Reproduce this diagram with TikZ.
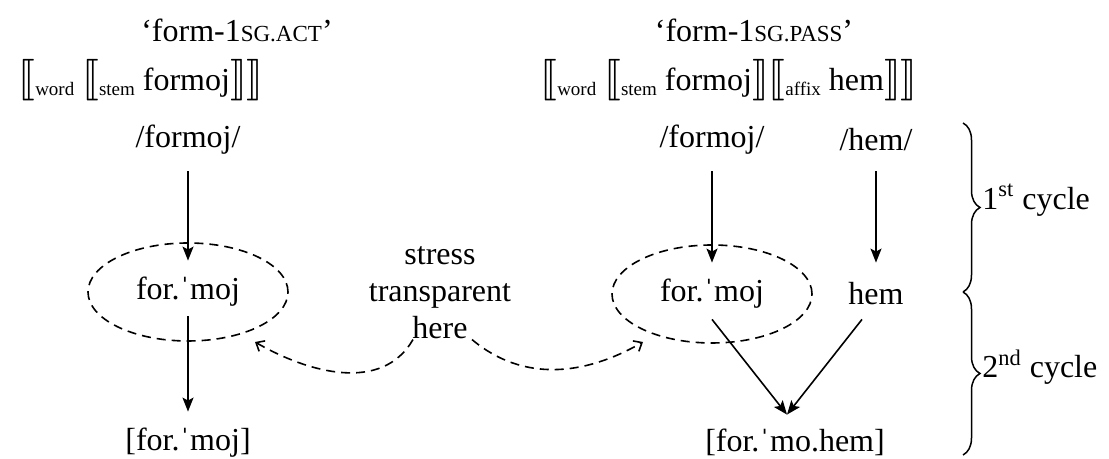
\documentclass[tikz,border=0pt]{standalone}
\usepackage{fontspec}
\setmainfont{Liberation Serif}
\usepackage{stmaryrd}
\usetikzlibrary{positioning,shapes.geometric,arrows.meta,decorations.pathreplacing}

\newcommand{\brsub}[1]{\raisebox{-0.35ex}{\fontsize{9.5}{11}\selectfont #1}}
\newcommand{\glosscaps}[1]{{\fontsize{11.5}{13}\selectfont #1}}
\newcommand{\lbr}{{\fontsize{20.5}{20}\selectfont$\llbracket$}}
\newcommand{\rbr}{{\fontsize{20.5}{20}\selectfont$\rrbracket$}}

\begin{document}
\begin{tikzpicture}[x=0.5pt,y=0.5pt,node distance=76pt,on grid,
  every node/.style={font=\fontsize{16}{18.5}\selectfont},
  form/.style={inner sep=0pt,minimum height=31pt},
  ring/.style={ellipse,draw,dash pattern=on 4.5pt off 3pt,line width=0.8pt,minimum width=100pt,minimum height=49pt},
  derive/.style={-{Stealth[length=7pt,width=5.5pt,inset=1.5pt]},line width=0.8pt},
  hint/.style={-{Straight Barb[length=3.5pt,width=6pt]},dash pattern=on 4.5pt off 3pt,line width=0.8pt},
  cyclebrace/.style={decorate,decoration={brace,amplitude=8.5pt},line width=0.75pt}]
   \useasboundingbox (0,0) rectangle (1109,459);
   \node (gL) at (237,429) {‘form-1\glosscaps{SG.ACT}’};
   \node (gR) at (754,429) {‘form-1\glosscaps{SG.PASS}’};
   \node (bL) at (141,379) {\lbr\brsub{word} \lbr\brsub{stem} formoj\rbr\rbr};
   \node (bR) at (729,379) {\lbr\brsub{word} \lbr\brsub{stem} formoj\rbr\lbr\brsub{affix} hem\rbr\rbr};
   \node[form] (fL) at (188,319) {/formoj/};
   \node[form] (mL) [below=76pt of fL] {for.ˈmoj};
   \node[form] (oL) [below=75.5pt of mL] {[for.ˈmoj]};
   \node[form] (fR) at (712,319) {/formoj/};
   \node[form] (hR0) at (876,319) {/hem/};
   \node[form] (mR) [below=77pt of fR] {for.ˈmoj};
   \node[form] (hR) [below=77pt of hR0] {hem};
   \node[form] (oR) at (795,17) {[for.ˈmo.hem]};
   \node[ring] (eL) at (mL) {};
   \node[ring] (eR) at (mR) {};
   \node[align=center,inner sep=0pt] (st) at (440,166) {stress\\transparent\\here};
   \coordinate (tL) at (255,117);
   \coordinate (tR) at (643,117);
   \coordinate (c0) at (963,336);
   \coordinate (c1) at (963,167);
   \coordinate (c2) at (963,4);
   \node[anchor=west,inner sep=0pt] (k1) at (982,259) {1\textsuperscript{st} cycle};
   \node[anchor=west,inner sep=0pt] (k2) at (982,92) {2\textsuperscript{nd} cycle};
    \draw[derive] (fL) -- (mL);
    \draw[derive,shorten <=-3.5pt] (mL) -- (oL);
    \draw[derive] (fR) -- (mR);
    \draw[derive] (hR0) -- (hR);
    \draw[derive] ([yshift=3pt]mR.south) -- ([xshift=-4pt,yshift=-2pt]oR.north);
    \draw[derive] ([xshift=-7pt,yshift=3pt]hR.south) -- ([xshift=-4pt,yshift=-2pt]oR.north);
    \draw[hint] ([xshift=-13.5pt]st.south) to[out=-120,in=-30] (tL);
    \draw[hint] ([xshift=16pt]st.south) to[out=-40,in=-150] (tR);
    \draw[cyclebrace] (c0) -- (c1);
    \draw[cyclebrace] (c1) -- (c2);
\end{tikzpicture}
\end{document}
